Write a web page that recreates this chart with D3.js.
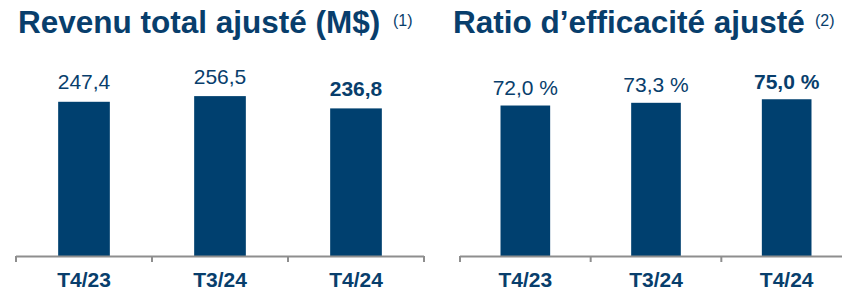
<!DOCTYPE html>
<html>
<head>
<meta charset="utf-8">
<title>Revenu et ratio d'efficacité</title>
<script src="https://cdn.jsdelivr.net/npm/d3@7/dist/d3.min.js"></script>
<style>
    html, body {
        margin: 0;
        padding: 0;
        background: #fff;
    }
    svg {
        display: block;
        font-family: "Liberation Sans", Arial, sans-serif;
    }
</style>
</head>
<body>
<div id="chart"></div>
<script>
    const quarters = ["T4/23", "T3/24", "T4/24"];
    const revenue = [247.4, 256.5, 236.8];
    const revenueLabels = ["247,4", "256,5", "236,8"];
    const efficiency = [72.0, 73.3, 75.0];
    const efficiencyLabels = ["72,0 %", "73,3 %", "75,0 %"];
    const highlighted = "T4/24";

    const width = 842;
    const height = 288;
    const navy = "#00406f";
    const textBlue = "#083e6c";
    const axisGray = "#8e8e8e";
    const baseline = 256;

    const svg = d3.select("#chart").append("svg")
            .attr("width", width)
            .attr("height", height)
            .attr("viewBox", [0, 0, width, height]);

    function panel(opts) {
        const g = svg.append("g");

        const x = d3.scaleBand(quarters, opts.xRange);
        const y = d3.scaleLinear(opts.yDomain, [baseline, opts.yTop]);
        const barW = x.bandwidth() * 0.38;

        // title + footnote marker
        g.append("text")
                .attr("x", opts.titleX)
                .attr("y", 33)
                .attr("fill", textBlue)
                .attr("font-weight", "bold")
                .attr("font-size", 31.5)
                .text(opts.title);
        g.append("text")
                .attr("x", opts.noteX)
                .attr("y", 25.5)
                .attr("fill", textBlue)
                .attr("font-size", 16)
                .text(opts.note);

        g.selectAll("rect.bar")
                .data(quarters)
                .join("rect")
                .attr("class", "bar")
                .attr("x", d => x(d) + (x.bandwidth() - barW) / 2)
                .attr("y", (d, i) => y(opts.values[i]))
                .attr("width", barW)
                .attr("height", (d, i) => y(0) - y(opts.values[i]))
                .attr("fill", navy);

        g.selectAll("text.value")
                .data(quarters)
                .join("text")
                .attr("class", "value")
                .attr("x", d => x(d) + x.bandwidth() / 2)
                .attr("y", (d, i) => y(opts.values[i]) - opts.labelGap)
                .attr("text-anchor", "middle")
                .attr("fill", textBlue)
                .attr("font-size", 21)
                .attr("font-weight", d => d === highlighted ? "bold" : "normal")
                .text((d, i) => opts.labels[i]);

        // axis: baseline with ticks at band edges
        const edges = quarters.map(d => x(d)).concat([x.range()[1]]);
        g.append("line")
                .attr("x1", opts.xRange[0])
                .attr("x2", opts.xRange[1])
                .attr("y1", baseline + 0.5)
                .attr("y2", baseline + 0.5)
                .attr("stroke", axisGray)
                .attr("stroke-width", 2);
        g.selectAll("line.tick")
                .data(edges)
                .join("line")
                .attr("class", "tick")
                .attr("x1", d => d)
                .attr("x2", d => d)
                .attr("y1", baseline)
                .attr("y2", baseline + 6)
                .attr("stroke", axisGray)
                .attr("stroke-width", 2);

        g.selectAll("text.cat")
                .data(quarters)
                .join("text")
                .attr("class", "cat")
                .attr("x", d => x(d) + x.bandwidth() / 2)
                .attr("y", 287)
                .attr("text-anchor", "middle")
                .attr("fill", textBlue)
                .attr("font-weight", "bold")
                .attr("font-size", 21)
                .text(d => d);
    }

    panel({
        title: "Revenu total ajusté (M$)",
        note: "(1)",
        titleX: 18,
        noteX: 393,
        values: revenue,
        labels: revenueLabels,
        xRange: [16, 424],
        yDomain: [0, 300],
        yTop: 69,
        labelGap: 12.5
    });

    panel({
        title: "Ratio d\u2019efficacité ajusté",
        note: "(2)",
        titleX: 453,
        noteX: 815,
        values: efficiency,
        labels: efficiencyLabels,
        xRange: [460, 852],
        yDomain: [0, 100],
        yTop: 47,
        labelGap: 10.5
    });
</script>
</body>
</html>
